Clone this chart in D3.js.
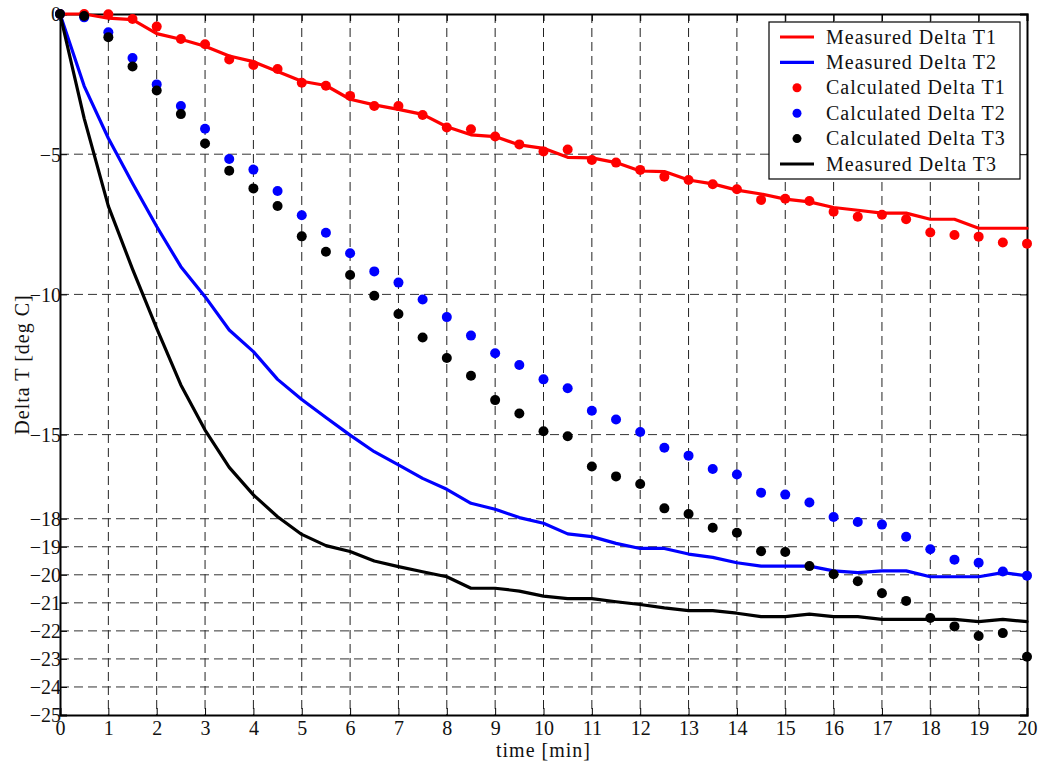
<!DOCTYPE html>
<html>
<head>
<meta charset="utf-8">
<script src="https://cdn.jsdelivr.net/npm/d3@7"></script>
<style>
  html, body { margin: 0; padding: 0; background: #fff; }
  svg { display: block; font-family: "Liberation Serif", "Times New Roman", serif; }
  svg text { font-family: "Liberation Serif", "Times New Roman", serif; }
</style>
</head>
<body>
<svg id="chart" width="1043" height="761"></svg>
<script>
// ---- data ----
const timeMin = [0,0.5,1,1.5,2,2.5,3,3.5,4,4.5,5,5.5,6,6.5,7,7.5,8,8.5,9,9.5,10,10.5,11,11.5,12,12.5,13,13.5,14,14.5,15,15.5,16,16.5,17,17.5,18,18.5,19,19.5,20];

const measuredT1 = [0,0,-0.15,-0.2,-0.7,-0.9,-1.15,-1.5,-1.7,-2.05,-2.4,-2.55,-3.04,-3.24,-3.4,-3.58,-4.02,-4.31,-4.37,-4.67,-4.79,-5.11,-5.13,-5.3,-5.6,-5.62,-5.92,-6.06,-6.28,-6.42,-6.6,-6.7,-6.9,-7.0,-7.1,-7.1,-7.32,-7.32,-7.64,-7.64,-7.64];

const measuredT2 = [0,-2.57,-4.43,-6.04,-7.58,-9.01,-10.08,-11.27,-12.04,-13.03,-13.75,-14.39,-15.02,-15.61,-16.08,-16.56,-16.95,-17.45,-17.66,-17.96,-18.16,-18.54,-18.64,-18.88,-19.06,-19.06,-19.26,-19.38,-19.57,-19.69,-19.69,-19.69,-19.86,-19.92,-19.86,-19.86,-20.07,-20.07,-20.07,-19.92,-20.04];

const measuredT3 = [0,-3.72,-6.85,-9.1,-11.21,-13.23,-14.84,-16.17,-17.15,-17.93,-18.56,-18.96,-19.17,-19.51,-19.71,-19.89,-20.07,-20.48,-20.48,-20.58,-20.76,-20.85,-20.85,-20.96,-21.06,-21.18,-21.28,-21.28,-21.37,-21.49,-21.49,-21.4,-21.49,-21.49,-21.59,-21.59,-21.59,-21.59,-21.67,-21.59,-21.67];

const calculatedT1 = [0,0,-0.01,-0.18,-0.45,-0.89,-1.08,-1.62,-1.82,-1.96,-2.45,-2.56,-2.92,-3.28,-3.28,-3.6,-4.05,-4.11,-4.37,-4.65,-4.9,-4.83,-5.21,-5.3,-5.56,-5.8,-5.92,-6.07,-6.25,-6.63,-6.59,-6.67,-7.05,-7.23,-7.16,-7.32,-7.79,-7.88,-7.94,-8.15,-8.19];

const calculatedT2 = [0,-0.12,-0.65,-1.57,-2.51,-3.28,-4.09,-5.17,-5.55,-6.31,-7.18,-7.8,-8.53,-9.18,-9.58,-10.18,-10.81,-11.47,-12.1,-12.52,-13.03,-13.35,-14.15,-14.46,-14.91,-15.47,-15.75,-16.23,-16.42,-17.07,-17.14,-17.42,-17.94,-18.12,-18.21,-18.64,-19.09,-19.46,-19.57,-19.88,-20.03];

const calculatedT3 = [0,-0.07,-0.83,-1.87,-2.73,-3.57,-4.62,-5.59,-6.22,-6.85,-7.93,-8.48,-9.31,-10.05,-10.7,-11.54,-12.27,-12.9,-13.77,-14.25,-14.88,-15.06,-16.14,-16.49,-16.76,-17.63,-17.83,-18.32,-18.5,-19.16,-19.19,-19.69,-19.98,-20.23,-20.66,-20.93,-21.54,-21.84,-22.18,-22.08,-22.92];

const xTickValues = [0,1,2,3,4,5,6,7,8,9,10,11,12,13,14,15,16,17,18,19,20];
const yTickValues = [0,-5,-10,-15,-18,-19,-20,-21,-22,-23,-24,-25];

const xLabel = "time [min]";
const yLabel = "Delta T [deg C]";

const legendItems = [
  { label: "Measured Delta T1", kind: "line", color: "#ff0000" },
  { label: "Measured Delta T2", kind: "line", color: "#0000ff" },
  { label: "Calculated Delta T1", kind: "dot", color: "#ff0000" },
  { label: "Calculated Delta T2", kind: "dot", color: "#0000ff" },
  { label: "Calculated Delta T3", kind: "dot", color: "#000000" },
  { label: "Measured Delta T3", kind: "line", color: "#000000" }
];

// ---- layout ----
const pLeft = 60, pRight = 1027, pTop = 14, pBottom = 715;
const serif = "'Liberation Serif', 'Times New Roman', serif";
const svg = d3.select("#chart");

const x = d3.scaleLinear().domain([0, 20]).range([pLeft, pRight]);
const y = d3.scaleLinear().domain([-25, 0]).range([pBottom, pTop]);

// grid
const grid = svg.append("g");
grid.selectAll("line.vg").data(xTickValues.filter(v => v > 0 && v < 20)).enter()
  .append("line")
  .attr("x1", d => x(d)).attr("x2", d => x(d))
  .attr("y1", pTop).attr("y2", pBottom)
  .attr("stroke", "#222").attr("stroke-width", 1)
  .attr("stroke-dasharray", "9,5");
grid.selectAll("line.hg").data(yTickValues.filter(v => v < 0 && v > -25)).enter()
  .append("line")
  .attr("x1", pLeft).attr("x2", pRight)
  .attr("y1", d => y(d)).attr("y2", d => y(d))
  .attr("stroke", "#333").attr("stroke-width", 1)
  .attr("stroke-dasharray", "9,5");

// axes (inward ticks on all sides)
const tickLen = 7;
const axB = svg.append("g").attr("transform", `translate(0,${pBottom})`)
  .call(d3.axisBottom(x).tickValues(xTickValues).tickSize(-tickLen).tickPadding(9).tickFormat(d3.format("d")));
const axT = svg.append("g").attr("transform", `translate(0,${pTop})`)
  .call(d3.axisTop(x).tickValues(xTickValues).tickSize(-tickLen).tickFormat(""));
const axL = svg.append("g").attr("transform", `translate(${pLeft},0)`)
  .call(d3.axisLeft(y).tickValues(yTickValues).tickSize(-tickLen).tickPadding(-1).tickFormat(d3.format("d")));
const axR = svg.append("g").attr("transform", `translate(${pRight},0)`)
  .call(d3.axisRight(y).tickValues(yTickValues).tickSize(-tickLen).tickFormat(""));

[axB, axT, axL, axR].forEach(a => {
  a.attr("font-family", serif).attr("font-size", 20);
  a.select(".domain").attr("stroke", "#000").attr("stroke-width", 2);
  a.selectAll(".tick line").attr("stroke", "#000").attr("stroke-width", 1);
  a.selectAll(".tick text").attr("fill", "#111").style("font-size", "20px")
    .style("font-family", serif);
});
axL.selectAll(".tick text").attr("dy", "0.34em");
axB.selectAll(".tick text").attr("dy", "0.55em");

// axis labels
svg.append("text")
  .attr("x", (pLeft + pRight) / 2).attr("y", 757)
  .attr("text-anchor", "middle")
  .style("font-size", "20px").style("letter-spacing", "1px")
  .style("font-family", serif)
  .attr("fill", "#111")
  .text(xLabel);
svg.append("text")
  .attr("transform", `translate(29,${(pTop + pBottom) / 2}) rotate(-90)`)
  .attr("text-anchor", "middle")
  .style("font-size", "20px").style("letter-spacing", "1px")
  .style("font-family", serif)
  .attr("fill", "#111")
  .text(yLabel);

// data marks
const lineGen = vals => d3.line().x((d, i) => x(timeMin[i])).y(d => y(d))(vals);
const plotArea = svg.append("g");

function drawLine(vals, color) {
  plotArea.append("path").attr("d", lineGen(vals))
    .attr("fill", "none").attr("stroke", color).attr("stroke-width", 3.2)
    .attr("stroke-linejoin", "round").attr("stroke-linecap", "round");
}
function drawDots(vals, color) {
  plotArea.append("g").selectAll("circle").data(vals).enter()
    .append("circle")
    .attr("cx", (d, i) => x(timeMin[i])).attr("cy", d => y(d))
    .attr("r", 5).attr("fill", color);
}

drawLine(measuredT1, "#ff0000");
drawLine(measuredT2, "#0000ff");
drawDots(calculatedT1, "#ff0000");
drawDots(calculatedT2, "#0000ff");
drawDots(calculatedT3, "#000000");
drawLine(measuredT3, "#000000");

// legend
const lg = svg.append("g");
lg.append("rect").attr("x", 769).attr("y", 22).attr("width", 251).attr("height", 157)
  .attr("fill", "#fff").attr("stroke", "#000").attr("stroke-width", 1.2);
const rowY = d3.scaleLinear().domain([0, 5]).range([37, 164]);
legendItems.forEach((it, i) => {
  const cy = rowY(i);
  if (it.kind === "line") {
    lg.append("line").attr("x1", 780).attr("x2", 814).attr("y1", cy).attr("y2", cy)
      .attr("stroke", it.color).attr("stroke-width", 3.2);
  } else {
    lg.append("circle").attr("cx", 797).attr("cy", cy).attr("r", 4.5).attr("fill", it.color);
  }
  lg.append("text").attr("x", 826).attr("y", cy).attr("dy", "0.33em")
    .style("font-size", "20px").style("letter-spacing", "1px")
    .style("font-family", serif)
    .attr("fill", "#111").text(it.label);
});
</script>
</body>
</html>
